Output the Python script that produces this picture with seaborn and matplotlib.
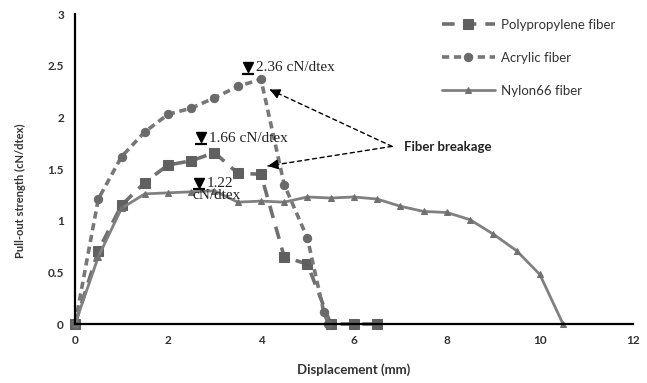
import numpy as np
import pandas as pd
import seaborn as sns
import matplotlib.pyplot as plt
from matplotlib.ticker import FuncFormatter

# Data
pp_x = [0, 0.5, 1, 1.5, 2, 2.5, 3, 3.5, 4, 4.5, 5, 5.5, 6, 6.5]
pp_y = [0, 0.71, 1.15, 1.37, 1.54, 1.58, 1.66, 1.46, 1.45, 0.65, 0.58, 0, 0, 0]

ac_x = [0, 0.5, 1, 1.5, 2, 2.5, 3, 3.5, 4, 4.5, 5, 5.35, 5.45]
ac_y = [0, 1.21, 1.62, 1.86, 2.03, 2.09, 2.19, 2.30, 2.37, 1.35, 0.83, 0.12, 0]

ny_x = [0, 0.5, 1, 1.5, 2, 2.5, 3, 3.5, 4, 4.5, 5, 5.5, 6, 6.5, 7, 7.5, 8, 8.5, 9, 9.5, 10, 10.5]
ny_y = [0, 0.65, 1.12, 1.26, 1.27, 1.28, 1.29, 1.18, 1.19, 1.18, 1.23, 1.22, 1.23, 1.21,
        1.14, 1.09, 1.08, 1.01, 0.87, 0.71, 0.48, 0]

labels = ["Polypropylene fiber", "Acrylic fiber", "Nylon66 fiber"]

# peak labels: marker position, text
peak_x = [3.72, 2.71, 2.67]
peak_y = [2.49, 1.81, 1.37]
peak_txt = ["2.36 cN/dtex", "1.66 cN/dtex", "1.22"]

sns.set_style("white")
plt.rcParams['font.family'] = ['Lato', 'DejaVu Sans']

fig = plt.figure(figsize=(6.47, 3.83), dpi=100)
ax = fig.add_axes([0.116, 0.154, 0.862, 0.809])

sns.lineplot(x=pp_x, y=pp_y, ax=ax, sort=False, color="#707070", lw=2.6,
             marker="s", markersize=7, markerfacecolor="#606060",
             markeredgecolor="#606060", dashes=(3.5, 2.5), label=labels[0], clip_on=False)
sns.lineplot(x=ac_x, y=ac_y, ax=ax, sort=False, color="#777777", lw=2.6,
             marker="o", markersize=6, markerfacecolor="#6a6a6a",
             markeredgecolor="#6a6a6a", dashes=(2, 1.3), label=labels[1], clip_on=False)
sns.lineplot(x=ny_x, y=ny_y, ax=ax, sort=False, color="#808080", lw=2.0,
             marker="^", markersize=5, markerfacecolor="#707070",
             markeredgecolor="#707070", label=labels[2], clip_on=False)

ax.set_xlim(0, 12)
ax.set_ylim(0, 3)
ax.set_xticks(np.arange(0, 13, 2))
ax.set_yticks(np.arange(0, 3.01, 0.5))
ax.yaxis.set_major_formatter(FuncFormatter(lambda v, p: f"{v:g}"))
for s in ["top", "right"]:
    ax.spines[s].set_visible(False)
for s in ["left", "bottom"]:
    ax.spines[s].set_color("black")
    ax.spines[s].set_linewidth(1.6)
ax.tick_params(axis="both", direction="out", length=3, width=1.2, color="black",
               labelsize=8.5, pad=5, labelcolor="#333333")
for t in ax.get_xticklabels() + ax.get_yticklabels():
    t.set_fontweight("bold")

ax.set_xlabel("Displacement (mm)", fontsize=9.5, fontweight="bold", color="#333333")
ax.set_ylabel("Pull-out strength (cN/dtex)", fontsize=8, fontweight="bold", color="#333333")
ax.xaxis.set_label_coords(0.499, -0.128)
ax.yaxis.set_label_coords(-0.088, 0.43)

# peak markers and texts
for px, py, t in zip(peak_x, peak_y, peak_txt):
    ax.plot(px, py, marker="v", color="black", markersize=7, ls="none")
    ax.plot(px, py - 0.065, marker="_", color="black", markersize=9, mew=1.6, ls="none")
    ax.text(px + 0.17, py - 0.01, t, family="Liberation Serif", fontsize=11,
            va="center", ha="left", color="#222222")
ax.text(2.52, 1.24, "cN/dtex", family="Liberation Serif", fontsize=11,
        va="center", ha="left", color="#222222")

# fiber breakage arrows
start = (6.82, 1.72)
for tip in [(4.19, 2.27), (4.15, 1.53)]:
    ax.annotate("", xy=tip, xytext=start,
                arrowprops=dict(arrowstyle="-", ls=(0, (3, 2.5)), color="black", lw=1.0,
                                shrinkA=0, shrinkB=0))
    d = np.array(start) - np.array(tip)
    ax.annotate("", xy=tip, xytext=(tip[0] + d[0] * 0.08, tip[1] + d[1] * 0.08),
                arrowprops=dict(arrowstyle="-|>,head_length=0.6,head_width=0.3",
                                color="black", lw=1.0, shrinkA=0, shrinkB=0))
ax.text(7.08, 1.71, "Fiber breakage", fontsize=9.5, fontweight="bold",
        va="center", ha="left", color="#222222")

leg = ax.legend(loc="upper left", bbox_to_anchor=(0.658, 0.985), frameon=False,
                fontsize=9.5, handlelength=4.0, labelspacing=1.6, handletextpad=0.45,
                borderpad=0, borderaxespad=0)
for t in leg.get_texts():
    t.set_color("#333333")

fig.savefig("out.png", dpi=100)
